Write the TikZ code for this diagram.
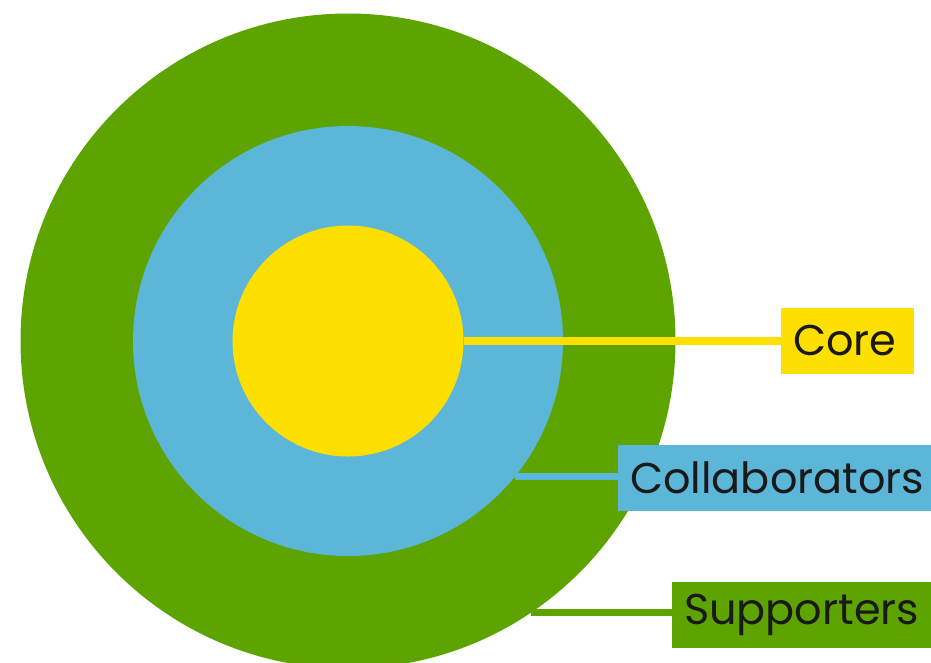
\documentclass[tikz,border=0pt]{standalone}
\usepackage{fontspec}
\setmainfont{Poppins}
\usetikzlibrary{positioning}

\definecolor{ringgreen}{HTML}{5EA400}
\definecolor{ringblue}{HTML}{5CB6D7}
\definecolor{ringyellow}{HTML}{FEE000}

\tikzset{
	ring/.style={circle, inner sep=0pt, outer sep=0pt, minimum size=#1},
	tag/.style={fill=#1, anchor=west, inner xsep=12pt, inner ysep=0pt, outer sep=0pt,
		minimum height=66pt, text=black!90, align=left, font=\fontsize{43}{43}\selectfont},
	lead/.style={draw=#1, line width=7.5pt}
}

\begin{document}
\begin{tikzpicture}[x=1pt, y=-1pt]
	\useasboundingbox (0,0) rectangle (931,662);
	\clip (0,0) rectangle (931,662);

	% rings, outside in
	\node[ring=655pt, fill=ringgreen] 	(S) at (348,341) 	{};
	\node[ring=430pt, fill=ringblue] 	(C) at (348,341) 	{};
	\node[ring=231pt, fill=ringyellow] 	(K) at (348,341) 	{};

	% labels
	\node[tag=ringyellow, text width=109pt] 	(Kt) at (781,341) 	{Core};
	\node[tag=ringblue, text width=320pt] 		(Ct) at (618,478) 	{Collaborators};
	\node[tag=ringgreen, text width=270pt] 		(St) at (672,615) 	{Supporters};

	% leader lines
	\draw[lead=ringyellow] 	(K.east) 	-- (Kt.west);
	\draw[lead=ringblue] 	(C.-39.6) 	-- (C.-39.6 -| Ct.west);
	\draw[lead=ringgreen] 	(S.-56.5) 	-- (S.-56.5 -| St.west);
\end{tikzpicture}
\end{document}
